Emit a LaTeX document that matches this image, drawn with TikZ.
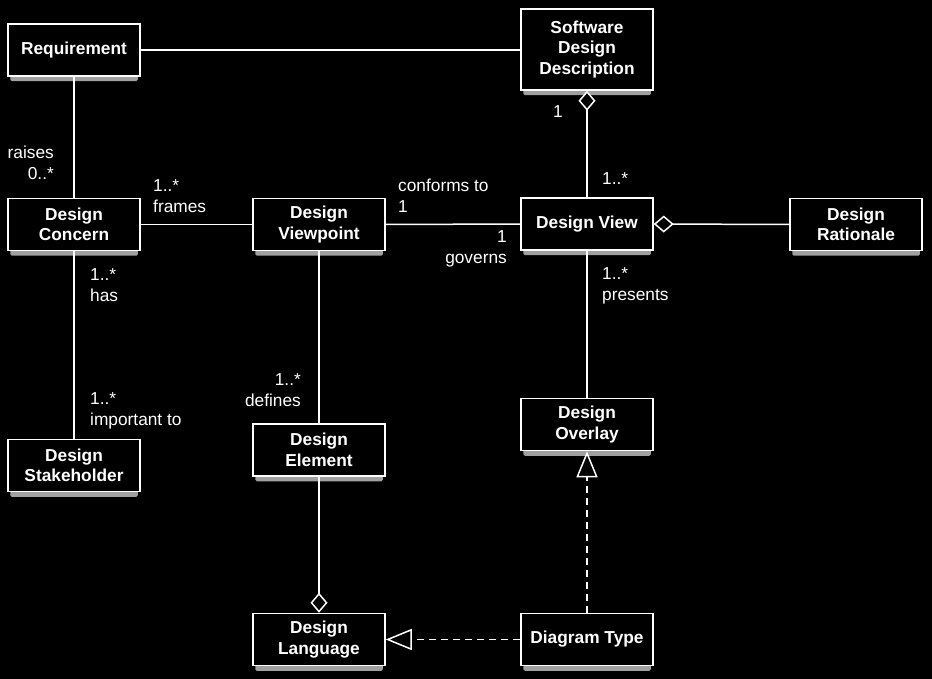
\documentclass[tikz,border=0pt]{standalone}
\usepackage{fontspec}
\setmainfont{Liberation Sans}
\usetikzlibrary{arrows.meta}
\definecolor{shadowgray}{RGB}{160,160,160}
\pgfdeclarelayer{bglayer}
\pgfdeclarelayer{shadowlayer}
\pgfsetlayers{bglayer,shadowlayer,main}
\begin{document}
\begin{tikzpicture}[x=1pt,y=-1pt,
  cls/.style={draw=white,line width=1.5pt,fill=black,text=white,
    font=\bfseries\fontsize{17.3}{20.5}\selectfont,align=center,
    minimum width=132pt,minimum height=52pt,inner sep=2pt},
  tall/.style={minimum height=81pt},
  lbl/.style={text=white,font=\fontsize{17.3}{21}\selectfont,inner sep=0pt},
  conn/.style={draw=white,line width=1.5pt},
  agg/.style={conn,{Diamond[length=20pt,width=17pt,fill=black,line width=1.5pt]}-},
  real/.style={conn,dash pattern=on 7pt off 5pt,
    -{Triangle[length=26pt,width=21pt,fill=black,line width=1.5pt]}},
  shd/.style={fill=shadowgray,rounded corners=1.5pt}
]
\begin{pgfonlayer}{bglayer}
\fill[black] (0,0) rectangle (932,679);
\end{pgfonlayer}
\useasboundingbox (0,0) rectangle (932,679);

% classes
\node[cls] (req) at (74,50) {Requirement};
\node[cls,tall] (sdd) at (587,49.5) {Software\\Design\\Description};
\node[cls] (con) at (74,224.5) {Design\\Concern};
\node[cls] (vp) at (319,224.5) {Design\\Viewpoint};
\node[cls] (view) at (587,224) {Design View};
\node[cls] (rat) at (856,224.5) {Design\\Rationale};
\node[cls] (stk) at (74,465.5) {Design\\Stakeholder};
\node[cls] (elem) at (319,450) {Design\\Element};
\node[cls] (ov) at (587,424.5) {Design\\Overlay};
\node[cls] (lang) at (319,639.5) {Design\\Language};
\node[cls] (dt) at (587,639.5) {Diagram Type};

% shadows
\begin{pgfonlayer}{shadowlayer}
\foreach \n in {req,sdd,con,vp,view,rat,stk,elem,ov,lang,dt}{
  \fill[shd] ([xshift=3pt,yshift=2pt]\n.south west) rectangle ([xshift=-3pt,yshift=-4.5pt]\n.south east);
}
\end{pgfonlayer}

% connectors
\draw[conn] (req.east) -- (sdd.west |- req.east);
\draw[conn] (req.south) -- (con.north);
\draw[conn] (con.east) -- (vp.west);
\draw[conn] (vp.east) -- (view.west);
\draw[agg] (sdd.south) -- (view.north);
\draw[agg] (view.east) -- (rat.west);
\draw[conn] (view.south) -- (ov.north);
\draw[conn] (con.south) -- (stk.north);
\draw[conn] (vp.south) -- (elem.north);
\draw[agg] (lang.north) -- (elem.south);
\draw[real] (dt.north) -- (ov.south);
\draw[real] (dt.west) -- (lang.east);

% labels
\node[lbl,align=right,anchor=east] (l1) at (54,163) {raises\\0..*};
\node[lbl,align=left,anchor=west] (l2) at (153,196) {1..*\\frames};
\node[lbl,align=left,anchor=west] (l3) at (398,196) {conforms to\\1};
\node[lbl,align=right,anchor=east] (l4) at (507,249) {1\\governs};
\node[lbl] (l5) at (558,112) {1};
\node[lbl,anchor=west] (l6) at (602,179) {1..*};
\node[lbl,align=left,anchor=west] (l7) at (602,286) {1..*\\presents};
\node[lbl,align=left,anchor=west] (l8) at (90,285.5) {1..*\\has};
\node[lbl,align=left,anchor=west] (l9) at (90,411) {1..*\\important to};
\node[lbl,align=right,anchor=east] (l10) at (301,390) {1..*\\defines};
\end{tikzpicture}
\end{document}
